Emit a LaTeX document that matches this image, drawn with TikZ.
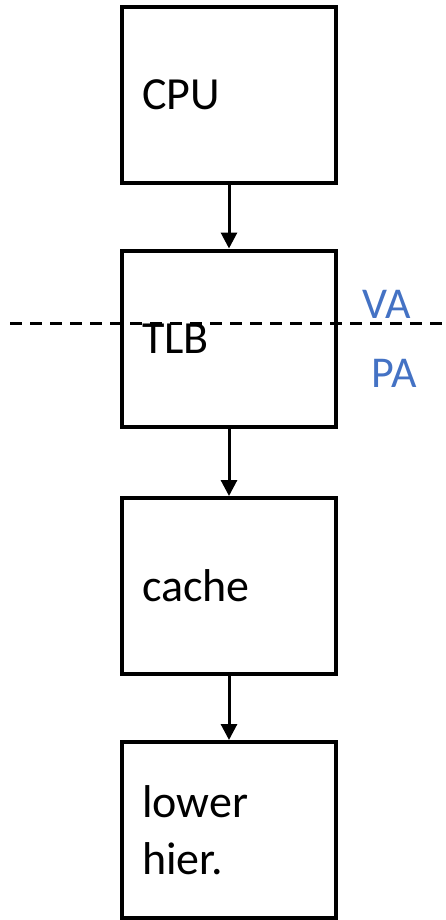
\documentclass[tikz,border=0pt]{standalone}
\usepackage{fontspec}
\setmainfont{Carlito}
\usepackage{tikz}
\usetikzlibrary{arrows.meta, positioning}
\definecolor{pablue}{RGB}{68,114,196}

\begin{document}
\begin{tikzpicture}[x=1pt, y=-1pt,
  unit/.style={draw, line width=4pt, minimum width=214pt, minimum height=176pt,
    text width=174pt, align=left, inner xsep=20pt,
    font=\fontsize{46}{57}\selectfont},
  flow/.style={line width=3pt, -{Triangle[length=16pt, width=16pt]}},
  addr/.style={pablue, anchor=base west, font=\fontsize{44}{52}\selectfont}]

  \useasboundingbox (0,0) rectangle (446,920);

  % Memory path
  \node[unit] (cpu)   at (229,95)    {CPU};
  \node[unit] (tlb)   at (229,338.5) {TLB};
  \node[unit] (cache) at (229,586)   {cache};
  \node[unit] (lower) at (229,830)   {lower\\hier.};

  \foreach \a/\b in {cpu/tlb, tlb/cache, cache/lower}{
    \draw[flow] (\a.south) -- (\b.north);
  }

  % VA / PA split
  \coordinate (cutL) at (10,323);
  \coordinate (cutR) at (446,323);
  \draw[line width=3pt, dash pattern=on 12pt off 8pt] (cutL) -- (cutR);
  \node[addr] (va) at (359,318) {VA};
  \node[addr] (pa) at (368,387) {PA};

\end{tikzpicture}
\end{document}
